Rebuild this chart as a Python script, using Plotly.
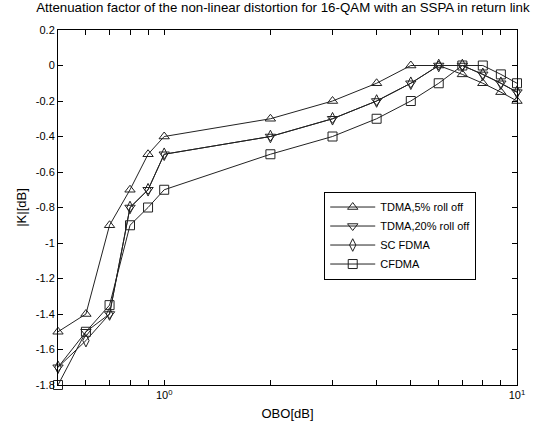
import plotly.graph_objects as go

obo = [0.5, 0.6, 0.7, 0.8, 0.9, 1, 2, 3, 4, 5, 6, 7, 8, 9, 10]
tdma5 = [-1.5, -1.4, -0.9, -0.7, -0.5, -0.4, -0.3, -0.2, -0.1, 0, 0, -0.05, -0.1, -0.15, -0.2]
tdma20 = [-1.7, -1.5, -1.4, -0.8, -0.7, -0.5, -0.4, -0.3, -0.2, -0.1, 0, 0, -0.05, -0.1, -0.15]
scfdma = [-1.7, -1.55, -1.4, -0.8, -0.7, -0.5, -0.4, -0.3, -0.2, -0.1, 0, 0, -0.05, -0.1, -0.15]
cfdma = [-1.8, -1.5, -1.35, -0.9, -0.8, -0.7, -0.5, -0.4, -0.3, -0.2, -0.1, 0, 0, -0.05, -0.1]

names = ["TDMA,5% roll off", "TDMA,20% roll off", "SC FDMA", "CFDMA"]
series = [tdma5, tdma20, scfdma, cfdma]
symbols = ["triangle-up-open", "triangle-down-open", "diamond-tall-open", "square-open"]

xmajor = [1, 10]
xmajortext = ["10<sup>0</sup>", "10<sup>1</sup>"]
xminor = [0.5, 0.6, 0.7, 0.8, 0.9, 2, 3, 4, 5, 6, 7, 8, 9]
ytickvals = [0.2, 0, -0.2, -0.4, -0.6, -0.8, -1, -1.2, -1.4, -1.6, -1.8]
yticktext = ["0.2", "0", "-0.2", "-0.4", "-0.6", "-0.8", "-1", "-1.2", "-1.4", "-1.6", "-1.8"]

fig = go.Figure()
for n, s, sym in zip(names, series, symbols):
    fig.add_trace(go.Scatter(
        x=obo, y=s, name=n, mode="lines+markers", cliponaxis=False,
        line=dict(color="#222222", width=1),
        marker=dict(symbol=sym, size=9, color="#222222", line=dict(width=1, color="#222222")),
    ))

fig.update_layout(
    width=544, height=433,
    margin=dict(l=58, r=27, t=30, b=48),
    paper_bgcolor="white", plot_bgcolor="white",
    font=dict(family="Liberation Sans, Arial, sans-serif", size=11, color="black"),
    title=dict(text="Attenuation factor of the non-linear distortion for 16-QAM with an SSPA in return link",
               x=0.52, xanchor="center", y=0.993, yanchor="top", font=dict(size=13.3)),
    legend=dict(x=0.58, y=0.545, xanchor="left", yanchor="top",
                bgcolor="white", bordercolor="black", borderwidth=1,
                font=dict(size=11), tracegroupgap=0, itemwidth=45),
    showlegend=True,
)
fig.update_xaxes(
    type="log", range=[-0.30103, 1.0],
    tickvals=xmajor, ticktext=xmajortext,
    ticks="inside", ticklen=5, tickcolor="black",
    minor=dict(tickvals=xminor, ticks="inside", ticklen=5, tickcolor="black", showgrid=False),
    showline=True, linecolor="black", linewidth=1, mirror="ticks",
    showgrid=False, zeroline=False,
    title=dict(text="OBO[dB]", standoff=8),
)
fig.update_yaxes(
    range=[-1.8, 0.2],
    tickvals=ytickvals, ticktext=yticktext,
    ticks="inside", ticklen=5, tickcolor="black",
    showline=True, linecolor="black", linewidth=1, mirror="ticks",
    showgrid=False, zeroline=False,
    title=dict(text="|K|[dB]", standoff=6),
)
fig.write_html("out.html")
